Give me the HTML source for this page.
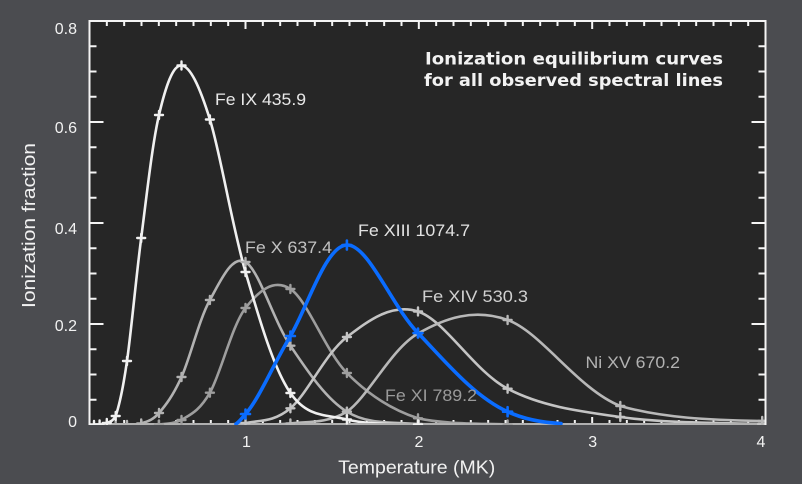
<!DOCTYPE html>
<html><head><meta charset="utf-8"><style>
html,body{margin:0;padding:0;background:#4b4c50;}
svg{display:block;}
text{font-family:"Liberation Sans",sans-serif;}
text.ttl{font-family:"DejaVu Sans","Liberation Sans",sans-serif;font-weight:bold;}
</style></head><body>
<svg width="802" height="484" viewBox="0 0 802 484" xmlns="http://www.w3.org/2000/svg">
<defs><clipPath id="pc"><rect x="89.5" y="21" width="676" height="404"/></clipPath></defs>
<rect x="0" y="0" width="802" height="484" fill="#4b4c50"/>
<rect x="89.5" y="21" width="676" height="404" fill="#262626"/>

<!-- ticks -->
<g stroke="#f4f4f4" stroke-width="2" fill="none">
<path d="M89.5 46.25h7M89.5 71.5h7M89.5 96.75h7M89.5 122h14M89.5 147.25h7M89.5 172.5h7M89.5 197.75h7M89.5 223h14M89.5 248.25h7M89.5 273.5h7M89.5 298.75h7M89.5 324h14M89.5 349.25h7M89.5 374.5h7M89.5 399.75h7"/>
<path d="M765.5 46.25h-7M765.5 71.5h-7M765.5 96.75h-7M765.5 122h-14M765.5 147.25h-7M765.5 172.5h-7M765.5 197.75h-7M765.5 223h-14M765.5 248.25h-7M765.5 273.5h-7M765.5 298.75h-7M765.5 324h-14M765.5 349.25h-7M765.5 374.5h-7M765.5 399.75h-7"/>
<path d="M106.83 21v5M124.17 21v5M141.5 21v5M158.83 21v5M176.17 21v5M193.5 21v5M210.83 21v5M228.17 21v5M245.5 21v8M262.83 21v5M280.17 21v5M297.5 21v5M314.83 21v5M332.17 21v5M349.5 21v5M366.83 21v5M384.17 21v5M401.5 21v5M418.83 21v8M436.17 21v5M453.5 21v5M470.83 21v5M488.17 21v5M505.5 21v5M522.83 21v5M540.17 21v5M557.5 21v5M574.83 21v5M592.17 21v8M609.5 21v5M626.83 21v5M644.17 21v5M661.5 21v5M678.83 21v5M696.17 21v5M713.5 21v5M730.83 21v5M748.17 21v5"/>
<path d="M106.83 425v-5M124.17 425v-5M141.5 425v-5M158.83 425v-5M176.17 425v-5M193.5 425v-5M210.83 425v-5M228.17 425v-5M245.5 425v-8M262.83 425v-5M280.17 425v-5M297.5 425v-5M314.83 425v-5M332.17 425v-5M349.5 425v-5M366.83 425v-5M384.17 425v-5M401.5 425v-5M418.83 425v-8M436.17 425v-5M453.5 425v-5M470.83 425v-5M488.17 425v-5M505.5 425v-5M522.83 425v-5M540.17 425v-5M557.5 425v-5M574.83 425v-5M592.17 425v-8M609.5 425v-5M626.83 425v-5M644.17 425v-5M661.5 425v-5M678.83 425v-5M696.17 425v-5M713.5 425v-5M730.83 425v-5M748.17 425v-5"/>
</g>

<g clip-path="url(#pc)" fill="none" stroke-linecap="round" stroke-linejoin="round">
<!-- Fe X -->
<path stroke="#b2b2b2" stroke-width="2.6" d="M89.5,425 L127,425 C129.4,424.75 135.9,424.5 141.2,423.5 C146.5,421.5 152.3,420.75 159,413 C165.7,405.25 173,395.8 181.5,377 C190,358.2 199.2,319.2 209.9,300 C220.6,280.8 232.1,254.4 245.5,262 C258.9,269.6 273.5,320.75 290.4,345.7 C307.3,370.65 325.6,398.65 346.9,411.7 C368.2,424.75 391.2,421.8 418,424 L765.5,425"/>
<!-- Fe XI -->
<path stroke="#9e9e9e" stroke-width="2.6" d="M89.5,425 L141.2,425 L159,424.5 C165.7,423.7 173,424 181.5,420 C190,414.7 199.2,411.4 209.9,392.7 C220.6,374 232.1,325.3 245.5,308 C258.9,290.7 273.5,278.2 290.4,289 C307.3,299.8 325.6,351.45 346.9,373 C368.2,394.55 391.2,409.7 418,418.3 C444.8,424 473.9,423.4 507.6,424.5 L765.5,425"/>
<!-- Fe XIV -->
<path stroke="#c4c4c4" stroke-width="2.6" d="M89.5,425 L209.9,425 C220.6,424.7 232.1,424.8 245.5,423 C258.9,420.2 273.5,422.6 290.4,408.3 C307.3,394 325.6,353.1 346.9,337 C368.2,320.9 391.2,302.9 418,311.5 C444.8,320.1 473.9,371.1 507.6,388.7 C541.3,406.3 577.9,411.1 620.3,417 C662.7,422.9 708.8,422.7 762.2,424 L766,424.1"/>
<!-- Ni XV -->
<path stroke="#b8b8b8" stroke-width="2.6" d="M89.5,425 L245.5,425 C258.9,424.75 273.5,424.8 290.4,423.5 C307.3,421.3 325.6,424 346.9,411.7 C368.2,396.7 391.2,348.8 418,333.5 C444.8,318.2 473.9,307.9 507.6,320 C541.3,332.1 577.9,389.2 620.3,406 C662.7,418 708.8,420 762.2,421 L766,421.1"/>
<!-- Fe IX -->
<path stroke="#f0f0f0" stroke-width="2.6" d="M89.5,425 L94,425 L99.6,424.5 L106.8,423 C109.5,421.6 112.3,422 115.7,416 C119.1,405.7 122.75,390.7 127,361 C131.25,331.3 135.9,279 141.2,238 C146.5,197 152.3,143.75 159,115 C165.7,86.25 173,64.75 181.5,65.5 C190,66.25 199.2,85.1 209.9,119.5 C220.6,153.9 232.1,226.4 245.5,272 C258.9,317.6 273.5,368.4 290.4,393 C307.3,417.6 325.6,414.25 346.9,419.5 C368.2,424.75 391.2,423.6 418,424.5 L765.5,425"/>

<!-- bottom axis band -->
<path stroke="#b0b0b0" stroke-width="3" d="M89.5,424.5 H765.5"/>

<!-- markers -->
<path stroke="#b2b2b2" stroke-width="2.4" d="M137.2 423.5h8M141.2 419.5v8M155 413h8M159 409v8M177.5 377h8M181.5 373v8M205.9 300h8M209.9 296v8M241.5 262h8M245.5 258v8M286.4 345.7h8M290.4 341.7v8M342.9 411.7h8M346.9 407.7v8M414 424h8M418 420v8M123 425h8M127 421v8M111.7 425h8M115.7 421v8"/>
<path stroke="#9e9e9e" stroke-width="2.4" d="M155 424.5h8M159 420.5v8M177.5 420h8M181.5 416v8M205.9 392.7h8M209.9 388.7v8M241.5 308h8M245.5 304v8M286.4 289h8M290.4 285v8M342.9 373h8M346.9 369v8M414 418.3h8M418 414.3v8M503.6 424.5h8M507.6 420.5v8"/>
<path stroke="#c4c4c4" stroke-width="2.4" d="M241.5 423h8M245.5 419v8M286.4 408.3h8M290.4 404.3v8M342.9 337h8M346.9 333v8M414 311.5h8M418 307.5v8M503.6 388.7h8M507.6 384.7v8M616.3 417h8M620.3 413v8M758.2 424h8M762.2 420v8"/>
<path stroke="#b8b8b8" stroke-width="2.4" d="M286.4 423.5h8M290.4 419.5v8M342.9 411.7h8M346.9 407.7v8M414 333.5h8M418 329.5v8M503.6 320h8M507.6 316v8M616.3 406h8M620.3 402v8M758.2 421h8M762.2 417v8"/>
<path stroke="#f0f0f0" stroke-width="2.4" d="M90 425h8M94 421v8M95.6 424.5h8M99.6 420.5v8M102.8 423h8M106.8 419v8M111.7 416h8M115.7 412v8M123 361h8M127 357v8M137.2 238h8M141.2 234v8M155 115h8M159 111v8M177.5 65.5h8M181.5 61.5v8M205.9 119.5h8M209.9 115.5v8M241.5 272h8M245.5 268v8M286.4 393h8M290.4 389v8M342.9 419.5h8M346.9 415.5v8M414 424.5h8M418 420.5v8"/>

<!-- Fe XIII blue -->
<path stroke="#0a6cff" stroke-width="3.6" d="M236,424 Q239.5,421.5 245.5,414 C258.9,399.2 273.5,364.2 290.4,336 C307.3,307.8 325.6,245.5 346.9,245 C368.2,244.5 391.2,305.2 418,333 C444.8,360.8 473.9,396.45 507.6,411.7 C525,419.6 545,422.8 561,423.5"/>
<path stroke="#0a6cff" stroke-width="2.6" d="M241 414h9M245.5 409.5v9M285.9 336h9M290.4 331.5v9M342.4 245h9M346.9 240.5v9M413.5 333h9M418 328.5v9M503.1 411.7h9M507.6 407.2v9"/>
</g>

<!-- frame -->
<path stroke="#f4f4f4" stroke-width="2" fill="none" d="M89.5,425 V21 H765.5 V425"/>

<!-- tick labels -->
<g fill="#f2f2f2" font-size="16" text-anchor="end">
<text x="77" y="34">0.8</text>
<text x="77" y="133">0.6</text>
<text x="77" y="234">0.4</text>
<text x="77" y="331">0.2</text>
<text x="77" y="427">0</text>
</g>
<g fill="#f2f2f2" font-size="16" text-anchor="middle">
<text x="246.5" y="447">1</text>
<text x="419" y="447">2</text>
<text x="592.7" y="447">3</text>
<text x="761" y="447">4</text>
</g>

<!-- axis titles -->
<text x="416.7" y="473.5" fill="#f2f2f2" font-size="18" text-anchor="middle" textLength="157" lengthAdjust="spacingAndGlyphs">Temperature (MK)</text>
<text transform="translate(35,225.5) rotate(-90)" fill="#f2f2f2" font-size="18" text-anchor="middle" textLength="165" lengthAdjust="spacingAndGlyphs">Ionization fraction</text>

<!-- title -->
<text class="ttl" x="425" y="64.5" fill="#f2f2f2" font-size="16.5" textLength="298" lengthAdjust="spacingAndGlyphs">Ionization equilibrium curves</text>
<text class="ttl" x="424" y="86" fill="#f2f2f2" font-size="16.5" textLength="299" lengthAdjust="spacingAndGlyphs">for all observed spectral lines</text>

<!-- curve labels -->
<g font-size="16.5">
<text x="215" y="105" fill="#e8e8e8" textLength="91" lengthAdjust="spacingAndGlyphs">Fe IX 435.9</text>
<text x="245" y="253" fill="#c2c2c2" textLength="87" lengthAdjust="spacingAndGlyphs">Fe X 637.4</text>
<text x="358" y="236" fill="#e2e2e2" textLength="112" lengthAdjust="spacingAndGlyphs">Fe XIII 1074.7</text>
<text x="422" y="302" fill="#d0d0d0" textLength="106" lengthAdjust="spacingAndGlyphs">Fe XIV 530.3</text>
<text x="385" y="401" fill="#9a9a9a" textLength="92" lengthAdjust="spacingAndGlyphs">Fe XI 789.2</text>
<text x="585.5" y="368" fill="#b2b2b2" textLength="94.5" lengthAdjust="spacingAndGlyphs">Ni XV 670.2</text>
</g>
</svg>
</body></html>
